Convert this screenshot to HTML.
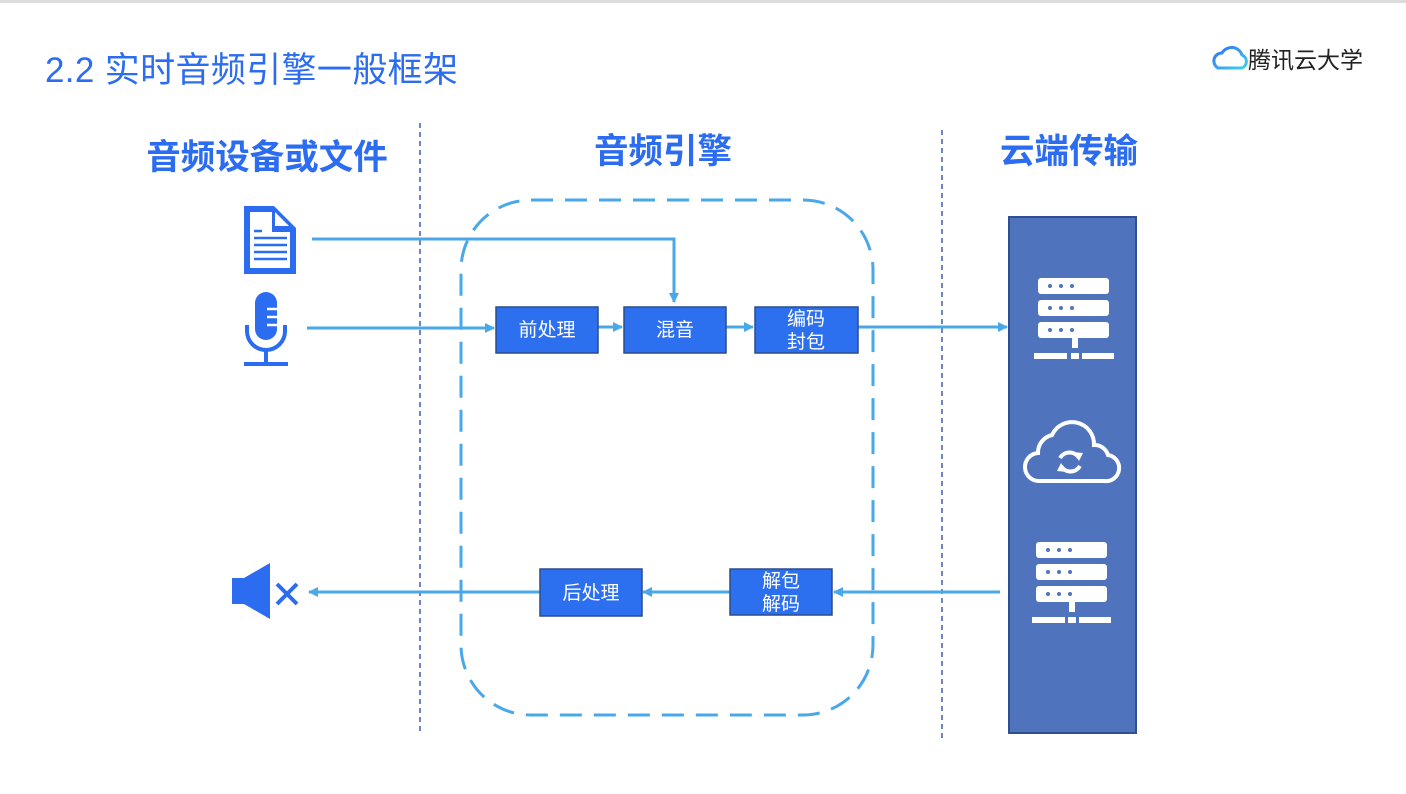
<!DOCTYPE html>
<html><head><meta charset="utf-8"><style>
html,body{margin:0;padding:0;background:#fff}
body{width:1406px;height:794px;overflow:hidden;font-family:"Liberation Sans","Noto Sans CJK SC",sans-serif}
</style></head><body>
<svg width="1406" height="794" viewBox="0 0 1406 794" xmlns="http://www.w3.org/2000/svg" style="display:block">
<defs>
<marker id="ar" markerWidth="10" markerHeight="10" refX="9" refY="5" orient="auto" markerUnits="userSpaceOnUse"><path d="M0,0 L10,5 L0,10 z" fill="#4aa8e8"/></marker>
<linearGradient id="lg" x1="0" y1="0" x2="1" y2="1"><stop offset="0" stop-color="#2f6ef5"/><stop offset="1" stop-color="#3fd0e8"/></linearGradient>
</defs>
<rect x="0" y="0" width="1406" height="3" fill="#dcdcdc"/>
<text x="45" y="82" font-size="35" fill="#2b6cf0" font-family="Liberation Sans,Noto Sans CJK SC,sans-serif" textLength="413">2.2 实时音频引擎一般框架</text>
<path d="M1218,68 a8,8 0 0 1 4,-15 a11,11 0 0 1 20,2 a7,7 0 0 1 0,13 z" fill="none" stroke="url(#lg)" stroke-width="3"/>
<text x="1248" y="68" font-size="23" fill="#222" font-family="Noto Sans CJK SC,sans-serif">腾讯云大学</text>

<g font-family="Noto Sans CJK SC,sans-serif" font-weight="bold" font-size="34.5" fill="#2b6cf0" text-anchor="middle">
<text x="267" y="169">音频设备或文件</text>
<text x="663" y="163">音频引擎</text>
<text x="1069" y="163">云端传输</text>
</g>
<line x1="420" y1="123" x2="420" y2="735" stroke="#3e5fa8" stroke-width="1.5" stroke-dasharray="5,4"/>
<line x1="942" y1="130" x2="942" y2="740" stroke="#3e5fa8" stroke-width="1.5" stroke-dasharray="5,4"/>
<rect x="461" y="200" width="412" height="515" rx="70" fill="none" stroke="#4aa8e8" stroke-width="3" stroke-dasharray="22,12"/>

<path d="M244,206 h30 l22,22 v46 h-52 z" fill="#2b6cf0"/>
<path d="M250,212 h22 v20 h18 v36 h-40 z" fill="#fff"/>
<path d="M275,212 l14,14 h-14 z" fill="#fff"/>
<g stroke="#2b6cf0" stroke-width="2.5"><line x1="254" y1="231" x2="262" y2="231"/><line x1="254" y1="238" x2="287" y2="238"/><line x1="254" y1="245" x2="287" y2="245"/><line x1="254" y1="252" x2="287" y2="252"/><line x1="254" y1="259" x2="287" y2="259"/></g>
<rect x="255" y="292" width="22" height="48" rx="11" fill="#2b6cf0"/>
<g stroke="#fff" stroke-width="2.5"><line x1="267" y1="309" x2="277" y2="309"/><line x1="267" y1="317" x2="277" y2="317"/><line x1="267" y1="325" x2="277" y2="325"/></g>
<path d="M247,325 v6 a19,19 0 0 0 38,0 v-6" fill="none" stroke="#2b6cf0" stroke-width="4"/>
<line x1="266" y1="350" x2="266" y2="362" stroke="#2b6cf0" stroke-width="4"/>
<line x1="244" y1="364" x2="288" y2="364" stroke="#2b6cf0" stroke-width="4"/>
<path d="M232,578 h12 l26,-15 v56 l-26,-15 h-12 z" fill="#2b6cf0"/>
<g stroke="#2b6cf0" stroke-width="4"><line x1="277" y1="584" x2="297" y2="604"/><line x1="297" y1="584" x2="277" y2="604"/></g>

<g stroke="#4aa8e8" stroke-width="3" fill="none">
<path d="M312,239 H674 V302" marker-end="url(#ar)"/>
<line x1="307" y1="328" x2="494" y2="328" marker-end="url(#ar)"/>
<line x1="598" y1="327" x2="622" y2="327" marker-end="url(#ar)"/>
<line x1="726" y1="327" x2="753" y2="327" marker-end="url(#ar)"/>
<line x1="858" y1="327" x2="1007" y2="327" marker-end="url(#ar)"/>
<line x1="1000" y1="592" x2="834" y2="592" marker-end="url(#ar)"/>
<line x1="730" y1="592" x2="643" y2="592" marker-end="url(#ar)"/>
<line x1="540" y1="592" x2="309" y2="592" marker-end="url(#ar)"/>
</g>

<g fill="#2d70ef" stroke="#2c4c8c" stroke-width="1.5">
<rect x="496" y="307" width="102" height="46"/>
<rect x="624" y="307" width="102" height="46"/>
<rect x="755" y="307" width="103" height="46"/>
<rect x="540" y="569" width="102" height="47"/>
<rect x="730" y="569" width="102" height="46"/>
</g>
<g font-family="Noto Sans CJK SC,sans-serif" font-size="19" fill="#fff" text-anchor="middle">
<text x="547" y="336">前处理</text>
<text x="675" y="336">混音</text>
<text x="806" y="325">编码</text>
<text x="806" y="348">封包</text>
<text x="591" y="599">后处理</text>
<text x="781" y="587">解包</text>
<text x="781" y="610">解码</text>
</g>

<rect x="1009" y="217" width="127" height="516" fill="#4f74bd" stroke="#2f4f90" stroke-width="2"/>
<g fill="#fff">
<rect x="1038" y="278" width="71" height="16" rx="3"/>
<rect x="1038" y="300" width="71" height="16" rx="3"/>
<rect x="1038" y="322" width="71" height="16" rx="3"/>
<rect x="1072" y="338" width="6" height="10"/>
<rect x="1034" y="353" width="33" height="6"/><rect x="1071" y="353" width="8" height="6"/><rect x="1082" y="353" width="32" height="6"/>
<rect x="1036" y="542" width="71" height="16" rx="3"/>
<rect x="1036" y="564" width="71" height="16" rx="3"/>
<rect x="1036" y="586" width="71" height="16" rx="3"/>
<rect x="1069" y="602" width="6" height="10"/>
<rect x="1032" y="617" width="33" height="6"/><rect x="1068" y="617" width="8" height="6"/><rect x="1079" y="617" width="32" height="6"/>
</g>
<g fill="#4f74bd">
<circle cx="1050" cy="286" r="2"/><circle cx="1061" cy="286" r="2"/><circle cx="1072" cy="286" r="2"/>
<circle cx="1050" cy="308" r="2"/><circle cx="1061" cy="308" r="2"/><circle cx="1072" cy="308" r="2"/>
<circle cx="1050" cy="330" r="2"/><circle cx="1061" cy="330" r="2"/><circle cx="1072" cy="330" r="2"/>
<circle cx="1048" cy="550" r="2"/><circle cx="1059" cy="550" r="2"/><circle cx="1070" cy="550" r="2"/>
<circle cx="1048" cy="572" r="2"/><circle cx="1059" cy="572" r="2"/><circle cx="1070" cy="572" r="2"/>
<circle cx="1048" cy="594" r="2"/><circle cx="1059" cy="594" r="2"/><circle cx="1070" cy="594" r="2"/>
</g>
<path d="M1040,481 a14,14 0 0 1 -2,-28 a18,18 0 0 1 14,-18 a22,22 0 0 1 42,10 a14,14 0 0 1 14,10 a13,13 0 0 1 -4,26 z" fill="none" stroke="#fff" stroke-width="4"/>
<g fill="none" stroke="#fff" stroke-width="4"><path d="M1060,458 a11,11 0 0 1 19,0"/><path d="M1080,466 a11,11 0 0 1 -19,0"/></g>
<path d="M1073,452 l10,1 l-4,8 z M1067,472 l-10,-1 l4,-8 z" fill="#fff"/>
</svg>
</body></html>
